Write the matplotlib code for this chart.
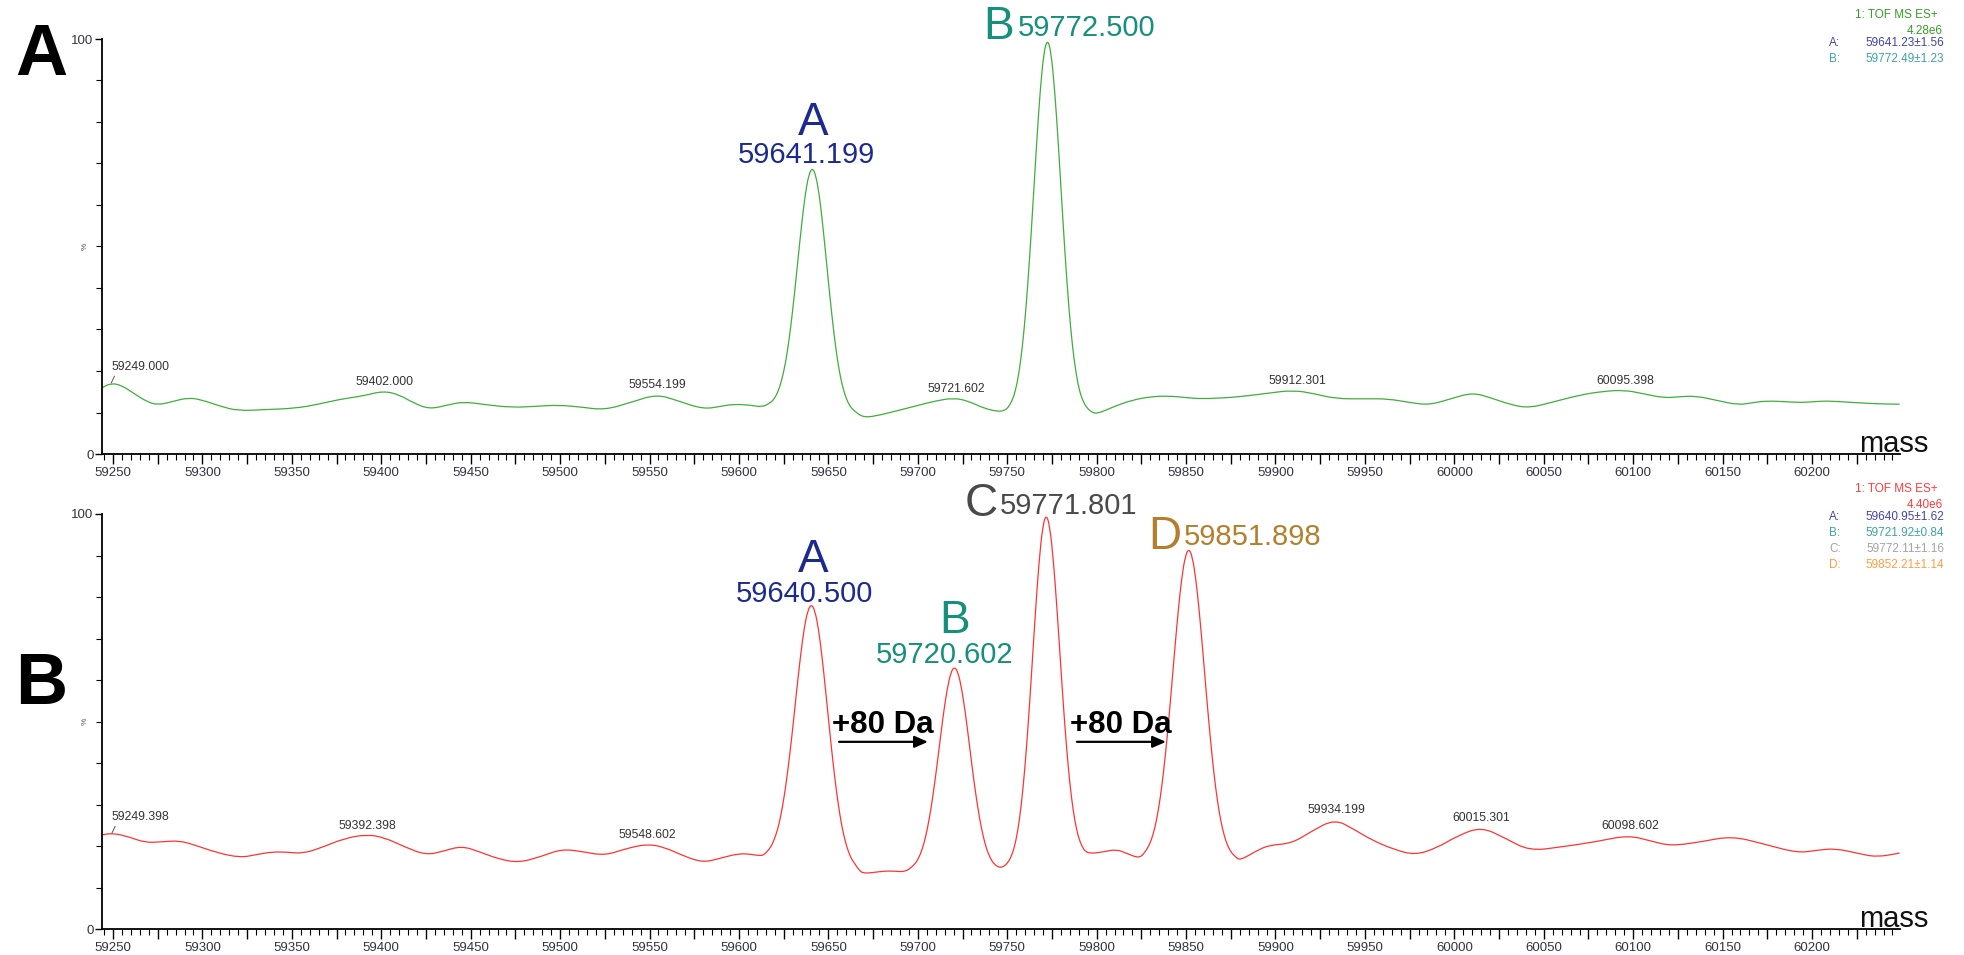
import matplotlib.pyplot as plt
from matplotlib.path import Path
from matplotlib.patches import PathPatch
from matplotlib.ticker import MultipleLocator, FuncFormatter

plt.rcParams['font.family'] = ['Liberation Sans', 'DejaVu Sans']

# deconvoluted spectrum, panel A (mass, % intensity)
top_mass = [59244, 59249, 59255, 59262, 59269, 59275, 59283, 59292, 59300, 59310,
            59320, 59335, 59352, 59365, 59377, 59390, 59401, 59410, 59418, 59427,
            59437, 59446, 59458, 59473, 59487, 59499, 59512, 59525, 59540, 59554,
            59566, 59580, 59590, 59597, 59606, 59613, 59617, 59619, 59621, 59623,
            59625, 59627, 59629, 59631, 59633, 59635, 59637, 59639, 59641, 59643,
            59645, 59647, 59649, 59651, 59653, 59655, 59657, 59659, 59661, 59663,
            59665, 59670, 59680, 59690, 59700, 59710, 59720, 59728, 59737, 59745,
            59748.5, 59750.5, 59752.5, 59754.5, 59756.5, 59758.5, 59760.5, 59762.5, 59764.5, 59766.5,
            59768.5, 59770.5, 59772.5, 59774.5, 59776.5, 59778.5, 59780.5, 59782.5, 59784.5, 59786.5,
            59788.5, 59790.5, 59792.5, 59794.5, 59796.5, 59800, 59810, 59820, 59830, 59840,
            59850, 59858, 59870, 59880, 59895, 59910, 59922, 59934, 59950, 59963,
            59975, 59986, 59998, 60010, 60020, 60032, 60042, 60055, 60070, 60083,
            60095, 60105, 60117, 60126, 60135, 60147, 60159, 60167, 60175, 60185,
            60194, 60201, 60208, 60220, 60235, 60249]
top_int = [16.0, 17.1, 16.5, 14.5, 12.6, 11.8, 12.6, 13.6, 13.0, 11.5,
           10.4, 10.7, 11.0, 12.0, 13.2, 14.0, 15.2, 14.3, 12.3, 10.8,
           11.8, 12.6, 11.9, 11.2, 11.5, 11.8, 11.3, 10.6, 12.5, 14.4,
           12.8, 10.8, 11.5, 12.0, 11.8, 11.3, 12.2, 12.9, 14.2, 16.4,
           19.7, 24.4, 30.7, 38.4, 46.8, 55.2, 62.4, 67.3, 69.0, 67.2,
           62.2, 54.7, 46.0, 37.3, 29.4, 22.8, 17.9, 14.6, 12.3, 11.0,
           10.2, 8.7, 9.5, 10.6, 11.7, 12.8, 13.5, 12.8, 11.0, 10.2,
           10.5, 11.2, 12.6, 15.0, 19.3, 25.8, 35.0, 47.0, 60.9, 75.3,
           88.0, 96.9, 100.0, 96.9, 88.0, 75.3, 60.9, 47.0, 35.0, 25.8,
           19.3, 15.0, 12.6, 11.2, 10.3, 9.6, 11.5, 13.0, 13.8, 14.0,
           13.6, 13.3, 13.5, 13.8, 14.6, 15.4, 14.5, 13.3, 13.3, 13.3,
           12.4, 11.8, 13.3, 14.8, 13.6, 11.8, 11.1, 12.5, 14.2, 15.1,
           15.4, 14.6, 13.5, 13.8, 14.0, 12.9, 11.8, 12.4, 12.8, 12.6,
           12.4, 12.6, 12.8, 12.5, 12.1, 12.0]

# panel B
bot_mass = [59244, 59250, 59259, 59268, 59277, 59287, 59296, 59308, 59321, 59330,
            59339, 59348, 59356, 59366, 59379, 59392, 59402, 59413, 59425, 59435,
            59445, 59455, 59466, 59477, 59489, 59501, 59513, 59525, 59537, 59549,
            59559, 59569, 59580, 59590, 59600, 59607, 59612.5, 59614.5, 59616.5, 59618.5,
            59620.5, 59622.5, 59624.5, 59626.5, 59628.5, 59630.5, 59632.5, 59634.5, 59636.5, 59638.5,
            59640.5, 59642.5, 59644.5, 59646.5, 59648.5, 59650.5, 59652.5, 59654.5, 59656.5, 59658.5,
            59660.5, 59662.5, 59664.5, 59666.5, 59669, 59675, 59682, 59688, 59693, 59696.5,
            59698.5, 59700.5, 59702.5, 59704.5, 59706.5, 59708.5, 59710.5, 59712.5, 59714.5, 59716.5,
            59718.5, 59720.5, 59722.5, 59724.5, 59726.5, 59728.5, 59730.5, 59732.5, 59734.5, 59736.5,
            59738.5, 59740.5, 59742.5, 59745.5, 59747.8, 59749.8, 59751.8, 59753.8, 59755.8, 59757.8,
            59759.8, 59761.8, 59763.8, 59765.8, 59767.8, 59769.8, 59771.8, 59773.8, 59775.8, 59777.8,
            59779.8, 59781.8, 59783.8, 59785.8, 59787.8, 59789.8, 59791.8, 59793.8, 59797, 59804,
            59811, 59817, 59824, 59827.5, 59829.5, 59831.5, 59833.5, 59835.5, 59837.5, 59839.5,
            59841.5, 59843.5, 59845.5, 59847.5, 59849.5, 59851.5, 59853.5, 59855.5, 59857.5, 59859.5,
            59861.5, 59863.5, 59865.5, 59867.5, 59869.5, 59871.5, 59873.5, 59875.5, 59877.5, 59880,
            59888, 59896, 59909, 59920, 59933, 59944, 59954, 59966, 59978, 59990,
            60002, 60015, 60028, 60042, 60060, 60079, 60097, 60110, 60121, 60138,
            60155, 60173, 60192, 60203, 60213, 60225, 60236, 60249]
bot_int = [22.7, 23.1, 22.2, 20.8, 21.0, 21.3, 20.2, 18.4, 17.2, 17.9,
           18.6, 18.5, 18.2, 19.5, 21.8, 22.8, 22.0, 19.8, 17.8, 18.8,
           20.0, 18.6, 16.8, 16.0, 17.4, 19.3, 18.6, 17.7, 19.4, 20.5,
           19.6, 17.6, 16.0, 17.1, 18.2, 18.0, 17.6, 18.1, 19.0, 20.3,
           22.4, 25.4, 29.8, 35.4, 42.3, 50.1, 58.4, 66.1, 72.6, 76.8,
           78.3, 76.7, 72.3, 65.5, 57.3, 48.7, 40.4, 33.2, 27.2, 22.7,
           19.5, 17.2, 15.9, 14.6, 13.4, 13.6, 14.0, 13.9, 13.8, 14.9,
           15.7, 17.1, 19.2, 22.4, 26.7, 32.2, 38.6, 45.6, 52.4, 58.0,
           61.9, 63.2, 61.9, 58.0, 52.4, 45.6, 38.6, 32.2, 26.7, 22.4,
           19.2, 17.1, 15.7, 14.8, 15.0, 15.7, 17.0, 19.3, 23.3, 29.5,
           38.3, 49.6, 62.9, 76.6, 88.6, 97.0, 100.0, 97.1, 89.0, 77.4,
           64.2, 51.4, 40.4, 31.9, 26.0, 22.1, 19.9, 18.6, 18.2, 18.6,
           19.2, 18.2, 17.0, 18.8, 20.3, 22.6, 26.2, 31.3, 38.1, 46.5,
           56.1, 66.5, 76.2, 84.4, 89.8, 91.7, 89.8, 84.3, 76.1, 66.3,
           55.9, 46.2, 37.7, 30.9, 25.8, 22.2, 19.8, 18.3, 17.5, 16.5,
           18.5, 20.2, 20.6, 23.5, 26.5, 24.0, 21.4, 19.2, 17.8, 19.5,
           22.5, 24.6, 22.0, 18.8, 19.8, 21.0, 22.6, 21.2, 20.0, 21.0,
           22.4, 20.5, 18.3, 19.0, 19.4, 18.3, 17.3, 18.3]

# small centroid labels (text, height of the local maximum)
top_small = ['59249.000', '59402.000', '59554.199', '59721.602', '59912.301', '60095.398']
top_small_h = [17.1, 15.2, 14.4, 13.5, 15.4, 15.4]
bot_small = ['59249.398', '59392.398', '59548.602', '59934.199', '60015.301', '60098.602']
bot_small_h = [23.1, 22.8, 20.5, 26.5, 24.6, 22.6]

top_legend = ['1: TOF MS ES+', '4.28e6']
top_comp = [('A:', '59641.23±1.56', '#4343a8'), ('B:', '59772.49±1.23', '#3ea3a3')]
bot_legend = ['1: TOF MS ES+', '4.40e6']
bot_comp = [('A:', '59640.95±1.62', '#4343a8'), ('B:', '59721.92±0.84', '#3ea3a3'),
            ('C:', '59772.11±1.16', '#a3a3a3'), ('D:', '59852.21±1.14', '#ff9c45')]

W, H = 1964, 955
fig = plt.figure(figsize=(W / 100, H / 100), dpi=100)
ax1 = fig.add_axes([102 / W, 1 - 454 / H, 1798 / W, 415 / H])
ax2 = fig.add_axes([102 / W, 1 - 929 / H, 1798 / W, 415 / H])

tick_col = '#333340'


def style(ax):
    ax.set_xlim(59243.85, 60249.2)
    ax.set_ylim(0, 100)
    for s in ['top', 'right']:
        ax.spines[s].set_visible(False)
    for s in ['left', 'bottom']:
        ax.spines[s].set_linewidth(1.3)
    ax.xaxis.set_major_locator(MultipleLocator(25))
    ax.xaxis.set_minor_locator(MultipleLocator(5))
    ax.xaxis.set_major_formatter(FuncFormatter(lambda v, p: '%d' % v if round(v) % 50 == 0 else ''))
    ax.yaxis.set_major_locator(MultipleLocator(100))
    ax.yaxis.set_minor_locator(MultipleLocator(10))
    ax.tick_params(axis='x', which='major', length=7, width=1, labelsize=9.5, pad=2, colors='black',
                   labelcolor=tick_col)
    ax.tick_params(axis='x', which='minor', length=4, width=0.8)
    ax.tick_params(axis='y', which='major', length=5, width=1, labelsize=9.5, pad=1, labelcolor=tick_col)
    ax.tick_params(axis='y', which='minor', length=4, width=0.8)
    ax.text(-0.0075, 0.5, '%', transform=ax.transAxes, rotation=90, fontsize=6,
            ha='right', va='center', color='#555555')
    ax.text(1.0156, 0.005, 'mass', transform=ax.transAxes, fontsize=21, ha='right',
            va='baseline', color='#111111')


style(ax1)
style(ax2)


def smooth_line(ax, xs, ys, color):
    # quadratic bezier through the midpoints, the read points act as controls
    pts = list(zip(xs, ys))
    verts = [pts[0]]
    codes = [Path.MOVETO]
    mid = lambda a, b: ((a[0] + b[0]) / 2, (a[1] + b[1]) / 2)
    verts.append(mid(pts[0], pts[1]))
    codes.append(Path.LINETO)
    for i in range(1, len(pts) - 1):
        verts += [pts[i], mid(pts[i], pts[i + 1])]
        codes += [Path.CURVE3, Path.CURVE3]
    verts.append(pts[-1])
    codes.append(Path.LINETO)
    ax.add_patch(PathPatch(Path(verts, codes), fill=False, edgecolor=color, lw=0.9,
                           clip_on=False, joinstyle='round'))


smooth_line(ax1, top_mass, top_int, '#3fae3a')
smooth_line(ax2, bot_mass, bot_int, '#ff3333')


def small_labels(ax, labels, heights):
    for i, (t, h) in enumerate(zip(labels, heights)):
        m = float(t)
        if i == 0:
            ax.annotate(t, xy=(m, h), xytext=(0, 7), textcoords='offset points',
                        ha='left', va='bottom', fontsize=8.8, color='#333333',
                        arrowprops=dict(arrowstyle='-', color='#555555', lw=0.7,
                                        shrinkA=0, shrinkB=0, relpos=(0.08, 0)))
        else:
            ax.annotate(t, xy=(m, h), xytext=(0, 2), textcoords='offset points',
                        ha='center', va='bottom', fontsize=8.8, color='#333333')


small_labels(ax1, top_small, top_small_h)
small_labels(ax2, bot_small, bot_small_h)

navy = '#1c2a8e'
teal = '#15907c'
grey = '#4a4a4a'
brown = '#b47f2c'

# panel A peak labels
ax1.text(59641.4, 76.9, 'A', fontsize=33, color=navy, ha='center', va='baseline')
ax1.text(59637.5, 70.1, '59641.199', fontsize=21, color=navy, ha='center', va='baseline')
ax1.text(59736.5, 100.0, 'B', fontsize=33, color=teal, ha='left', va='baseline')
ax1.text(59756.0, 100.8, '59772.500', fontsize=21, color=teal, ha='left', va='baseline')

# panel B peak labels
ax2.text(59641.4, 86.0, 'A', fontsize=33, color=navy, ha='center', va='baseline')
ax2.text(59636.4, 78.9, '59640.500', fontsize=21, color=navy, ha='center', va='baseline')
ax2.text(59720.8, 71.3, 'B', fontsize=33, color=teal, ha='center', va='baseline')
ax2.text(59715.2, 64.1, '59720.602', fontsize=21, color=teal, ha='center', va='baseline')
ax2.text(59726.4, 99.5, 'C', fontsize=33, color=grey, ha='left', va='baseline')
ax2.text(59746.0, 100.0, '59771.801', fontsize=21, color=grey, ha='left', va='baseline')
ax2.text(59828.7, 91.6, 'D', fontsize=33, color=brown, ha='left', va='baseline')
ax2.text(59848.9, 92.5, '59851.898', fontsize=21, color=brown, ha='left', va='baseline')

# +80 Da shifts
for x0, x1 in [(59656, 59705.7), (59789, 59838.8)]:
    ax2.text(x0 - 4, 47.3, '+80 Da', fontsize=22.5, fontweight='bold', ha='left', va='baseline')
    ax2.annotate('', xy=(x1, 45.1), xytext=(x0, 45.1),
                 arrowprops=dict(arrowstyle='-|>,head_length=0.8,head_width=0.35', color='black',
                                 lw=1.6, shrinkA=0, shrinkB=0))

# panel letters
fig.text(15 / W, 1 - 75 / H, 'A', fontsize=52, fontweight='bold', ha='left', va='baseline')
fig.text(15 / W, 1 - 704 / H, 'B', fontsize=52, fontweight='bold', ha='left', va='baseline')


# instrument legend, upper right of each panel
def legend(y0, head, comps, col):
    fig.text(1938 / W, 1 - y0 / H, head[0], fontsize=8.5, color=col, ha='right', va='center')
    fig.text(1943 / W, 1 - (y0 + 16) / H, head[1], fontsize=8.5, color=col, ha='right', va='center')
    for k, (a, b, c) in enumerate(comps):
        y = y0 + 28 + 16 * k
        fig.text(1829 / W, 1 - y / H, a, fontsize=8.5, color=c, ha='left', va='center')
        fig.text(1944 / W, 1 - y / H, b, fontsize=8.5, color=c, ha='right', va='center')


legend(15, top_legend, top_comp, '#3a9a2a')
legend(489, bot_legend, bot_comp, '#ff3b3b')

fig.savefig('out.png', dpi=100)
